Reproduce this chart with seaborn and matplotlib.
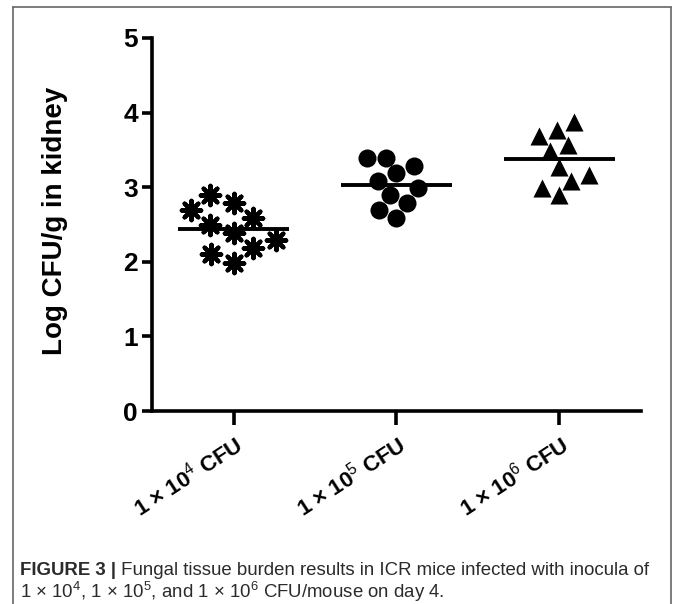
import pandas as pd
import matplotlib
matplotlib.use("Agg")
import matplotlib.pyplot as plt
import seaborn as sns

# inoculum groups and log CFU/g values
groups = ["1e4", "1e5", "1e6"]
tick_labels = [r"1 × 10$^{4}$ CFU", r"1 × 10$^{5}$ CFU", r"1 × 10$^{6}$ CFU"]
vals_1e4 = [2.79, 2.59, 2.49, 2.69, 2.89, 2.39, 2.19, 1.99, 2.11, 2.29]
vals_1e5 = [3.29, 3.39, 3.08, 3.19, 3.39, 2.99, 2.89, 2.79, 2.59, 2.69]
vals_1e6 = [3.88, 3.68, 3.48, 3.57, 3.77, 3.27, 3.08, 2.89, 2.99, 3.17]

df = pd.concat([
    pd.DataFrame({"group": g, "value": v})
    for g, v in zip(groups, [vals_1e4, vals_1e5, vals_1e6])
])

sns.set_style("ticks", {"axes.edgecolor": "black", "text.color": "black",
                        "axes.labelcolor": "black", "xtick.color": "black",
                        "ytick.color": "black"})
plt.rcParams["font.family"] = ["Liberation Sans", "DejaVu Sans"]
plt.rcParams["mathtext.fontset"] = "custom"
plt.rcParams["mathtext.rm"] = "Liberation Sans"
plt.rcParams["mathtext.bf"] = "Liberation Sans:bold"

fig = plt.figure(figsize=(6.75, 6.04), dpi=100)
ax = fig.add_axes([0.2252, 0.3195, 0.7244, 0.6176])

markers = [(8, 2, 0), "o", "^"]
sizes = [14, 13, 13]
for g, m, s in zip(groups, markers, sizes):
    sub = df[df["group"] == g]
    if m == (8, 2, 0):
        sns.swarmplot(data=sub, x="group", y="value", order=groups, ax=ax,
                      marker=m, size=s, color="black", edgecolor="black",
                      linewidth=3)
    else:
        sns.swarmplot(data=sub, x="group", y="value", order=groups, ax=ax,
                      marker=m, size=s, color="black", linewidth=0)

# mean lines
means = df.groupby("group", sort=False)["value"].mean().reindex(groups)
for i, mval in enumerate(means):
    ax.hlines(mval, i - 0.34, i + 0.34, color="black", lw=2.8, zorder=3)

ax.set_xlim(-0.5, 2.5)
ax.set_ylim(0, 5)
ax.set_yticks(range(0, 6))
ax.set_xticks(range(3))
ax.set_xticklabels(tick_labels, rotation=33, ha="right", rotation_mode="anchor",
                   fontsize=16, fontweight="bold")
ax.set_xlabel("")
ax.set_ylabel("Log CFU/g in kidney", fontsize=20, fontweight="bold")
ax.yaxis.set_label_coords(-0.172, 0.51)
for lab in ax.get_yticklabels():
    lab.set_fontsize(19)
    lab.set_fontweight("bold")

sns.despine(ax=ax)
for sp in ["left", "bottom"]:
    ax.spines[sp].set_linewidth(2.6)
ax.tick_params(axis="y", width=2.6, length=7, pad=3)
ax.tick_params(axis="x", width=2.6, length=10, pad=5)

# caption
cap_color = "#2b2b2b"
t1 = fig.text(0.030, 1 - 575 / 604, "FIGURE 3 |", fontsize=13.4,
              fontweight="bold", color=cap_color)
ax.annotate(" Fungal tissue burden results in ICR mice infected with inocula of",
            xy=(1, 0), xycoords=t1, va="bottom", ha="left",
            fontsize=13.4, color=cap_color, annotation_clip=False)
fig.text(0.030, 1 - 598 / 604,
         r"1 $\times$ 10$^{4}$, 1 $\times$ 10$^{5}$, and 1 $\times$ 10$^{6}$ CFU/mouse on day 4.",
         fontsize=13.4, color=cap_color)

# figure frame (left, top, right)
frame_col = "#666666"
fx0, fx1, fy1 = 13 / 675, 671 / 675, 1 - 6.5 / 604
for xs, ys in [([fx0, fx0], [0, fy1]), ([fx0, fx1], [fy1, fy1]), ([fx1, fx1], [fy1, 0])]:
    fig.add_artist(plt.Line2D(xs, ys, transform=fig.transFigure, color=frame_col, lw=1.2))

fig.savefig("out.png", dpi=100)
